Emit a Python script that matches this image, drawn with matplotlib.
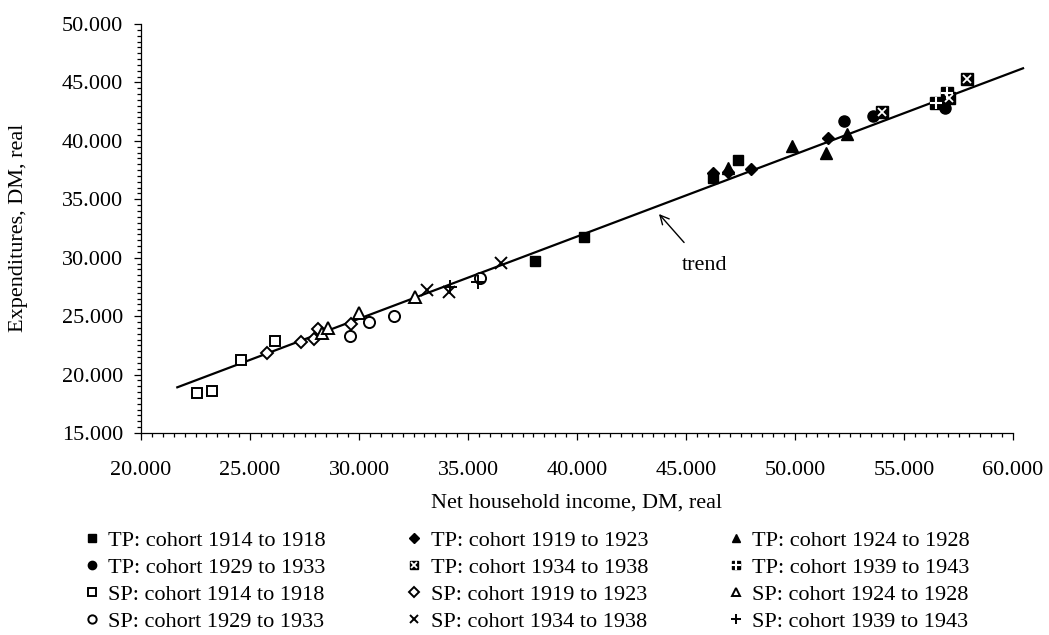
import matplotlib
matplotlib.use("Agg")
import matplotlib.pyplot as plt
from matplotlib.ticker import MultipleLocator, FuncFormatter
from matplotlib.legend_handler import HandlerTuple

plt.rcParams["font.family"] = ["Liberation Serif", "DejaVu Serif"]

# values (DM, real)
tp_1914_x = [38070, 40320, 46250, 47370]
tp_1914_y = [29740, 31810, 36790, 38360]
tp_1919_x = [46250, 46940, 47980, 51500]
tp_1919_y = [37220, 37310, 37590, 40270]
tp_1924_x = [46940, 49850, 51410, 52400]
tp_1924_y = [37700, 39560, 38990, 40560]
tp_1929_x = [52260, 53590, 56880]
tp_1929_y = [41720, 42130, 42790]
tp_1934_x = [53980, 57080, 57880]
tp_1934_y = [42500, 43640, 45270]
tp_1939_x = [56470, 56990]
tp_1939_y = [43210, 44070]

sp_1914_x = [22560, 23260, 24590, 26150]
sp_1914_y = [18400, 18590, 21250, 22900]
sp_1919_x = [25780, 27330, 27940, 28130, 29650]
sp_1919_y = [21820, 22810, 23020, 23870, 24300]
sp_1924_x = [28290, 28590, 29990, 32570]
sp_1924_y = [23530, 24010, 25290, 26610]
sp_1929_x = [29590, 30470, 31620, 35550]
sp_1929_y = [23300, 24500, 25040, 28240]
sp_1934_x = [33130, 34130, 36500]
sp_1934_y = [27240, 27090, 29520]
sp_1939_x = [34170, 35450]
sp_1939_y = [27520, 27950]

trend_x = [21665, 60460]
trend_y = [18910, 46210]

FS = 16

fig = plt.figure(figsize=(10.49, 6.35), dpi=100)
ax = fig.add_axes([141 / 1049, 1 - 433 / 635, (1013 - 141) / 1049, (433 - 24) / 635])

ax.plot(trend_x, trend_y, color="black", lw=1.6, clip_on=False, zorder=2)

h = {}
h["tp1914"], = ax.plot(tp_1914_x, tp_1914_y, "s", ms=7.2, color="black", ls="none", zorder=3)
h["tp1919"], = ax.plot(tp_1919_x, tp_1919_y, "D", ms=6.5, color="black", ls="none", zorder=3)
h["tp1924"], = ax.plot(tp_1924_x, tp_1924_y, "^", ms=8.5, color="black", ls="none", zorder=3)
h["tp1929"], = ax.plot(tp_1929_x, tp_1929_y, "o", ms=8, color="black", ls="none", zorder=3)
a, = ax.plot(tp_1934_x, tp_1934_y, "s", ms=8, color="black", ls="none", zorder=3)
b, = ax.plot(tp_1934_x, tp_1934_y, "x", ms=6, mew=1.3, color="white", ls="none", zorder=4)
h["tp1934"] = (a, b)
a, = ax.plot(tp_1939_x, tp_1939_y, "s", ms=8, color="black", ls="none", zorder=3)
b, = ax.plot(tp_1939_x, tp_1939_y, "+", ms=9, mew=1.5, color="white", ls="none", zorder=4)
h["tp1939"] = (a, b)

open_kw = dict(mfc="white", mec="black", mew=1.4, ls="none", zorder=3)
h["sp1914"], = ax.plot(sp_1914_x, sp_1914_y, "s", ms=7.5, **open_kw)
h["sp1919"], = ax.plot(sp_1919_x, sp_1919_y, "D", ms=6.5, **open_kw)
h["sp1924"], = ax.plot(sp_1924_x, sp_1924_y, "^", ms=8.5, **open_kw)
h["sp1929"], = ax.plot(sp_1929_x, sp_1929_y, "o", ms=8, **open_kw)
h["sp1934"], = ax.plot(sp_1934_x, sp_1934_y, "x", ms=8.5, mew=1.4, color="black", ls="none", zorder=3)
h["sp1939"], = ax.plot(sp_1939_x, sp_1939_y, "+", ms=9.5, mew=1.4, color="black", ls="none", zorder=3)

ax.annotate("trend", xy=(43760, 33740), xytext=(45830, 29360), fontsize=FS,
            ha="center", va="center",
            arrowprops=dict(arrowstyle="->", color="black", lw=1.0, shrinkA=10, shrinkB=0))

ax.set_xlim(20000, 60000)
ax.set_ylim(15000, 50000)
ax.xaxis.set_major_locator(MultipleLocator(5000))
ax.xaxis.set_minor_locator(MultipleLocator(500))
ax.yaxis.set_major_locator(MultipleLocator(5000))
ax.yaxis.set_minor_locator(MultipleLocator(500))
fmt = FuncFormatter(lambda v, p: f"{v:,.0f}".replace(",", "."))
ax.xaxis.set_major_formatter(fmt)
ax.yaxis.set_major_formatter(fmt)
ax.tick_params(which="major", length=5, width=0.9, labelsize=FS, direction="out")
ax.tick_params(which="minor", length=3, width=0.9, direction="out")
ax.tick_params(axis="x", which="major", pad=15)
ax.tick_params(axis="y", which="major", pad=8)
for s in ("top", "right"):
    ax.spines[s].set_visible(False)
for s in ("left", "bottom"):
    ax.spines[s].set_linewidth(0.9)

fig.text(577 / 1049, 1 - 503 / 635, "Net household income, DM, real", fontsize=FS,
         ha="center", va="center")
fig.text(19 / 1049, 1 - 228 / 635, "Expenditures, DM, real", fontsize=FS,
         ha="center", va="center", rotation=90)

order = [
    ("tp1914", "TP: cohort 1914 to 1918"),
    ("tp1929", "TP: cohort 1929 to 1933"),
    ("sp1914", "SP: cohort 1914 to 1918"),
    ("sp1929", "SP: cohort 1929 to 1933"),
    ("tp1919", "TP: cohort 1919 to 1923"),
    ("tp1934", "TP: cohort 1934 to 1938"),
    ("sp1919", "SP: cohort 1919 to 1923"),
    ("sp1934", "SP: cohort 1934 to 1938"),
    ("tp1924", "TP: cohort 1924 to 1928"),
    ("tp1939", "TP: cohort 1939 to 1943"),
    ("sp1924", "SP: cohort 1924 to 1928"),
    ("sp1939", "SP: cohort 1939 to 1943"),
]
fig.legend([h[k] for k, _ in order], [lab for _, lab in order],
           ncol=3, loc="upper left", bbox_to_anchor=(84 / 1049, 1 - 530 / 635),
           frameon=False, fontsize=FS, markerscale=0.75, handlelength=0.7,
           handletextpad=0.4, columnspacing=3.6, labelspacing=0.3,
           borderpad=0, borderaxespad=0,
           handler_map={tuple: HandlerTuple(ndivide=1)})

fig.savefig("out.png", dpi=100)
